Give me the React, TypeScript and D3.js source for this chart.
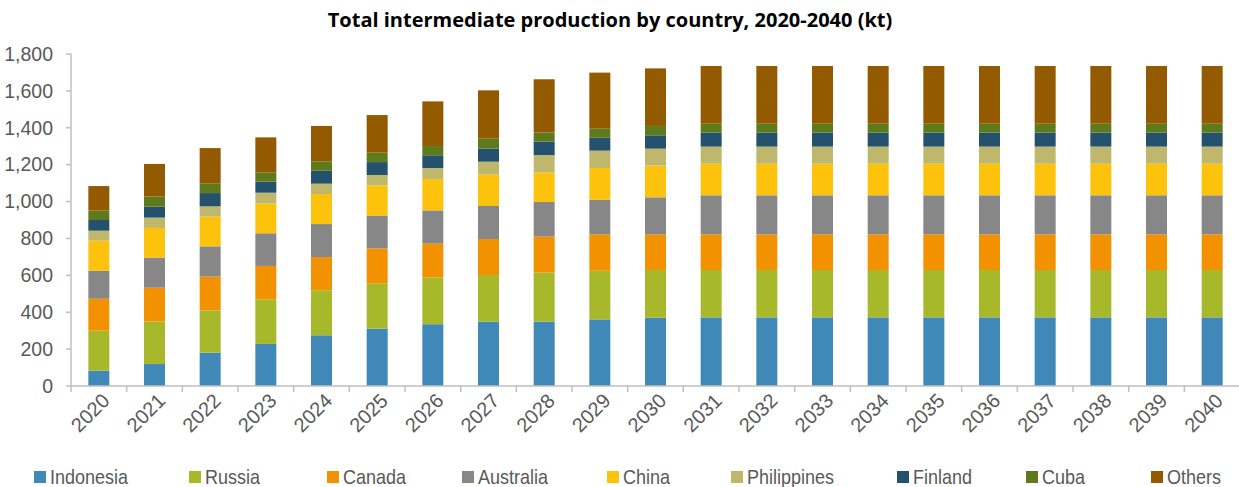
import React from "react";
import * as d3 from "d3";

const years = ["2020","2021","2022","2023","2024","2025","2026","2027","2028","2029","2030","2031","2032","2033","2034","2035","2036","2037","2038","2039","2040"];
const seriesNames = ["Indonesia","Russia","Canada","Australia","China","Philippines","Finland","Cuba","Others"];
const indonesia = [83,119,181,228,275,311,335,349,349,361,370,372,372,372,372,372,372,372,372,372,372];
const russia = [217,230,229,242,244,246,254,253,267,264,259,257,257,257,257,257,257,257,257,257,257];
const canada = [173,184,183,181,180,189,183,195,194,197,193,193,193,193,193,193,193,193,193,193,193];
const australia = [152,163,164,177,179,178,180,179,188,188,201,212,212,212,212,212,212,212,212,212,212];
const china = [163,161,161,162,163,164,170,170,159,172,172,171,171,171,171,171,171,171,171,171,171];
const philippines = [54,56,56,58,56,56,60,70,95,94,92,93,93,93,93,93,93,93,93,93,93];
const finland = [58,59,72,60,70,70,69,71,73,70,72,76,76,76,76,76,76,76,76,76,76];
const cuba = [51,55,51,49,51,51,50,54,49,49,51,48,48,48,48,48,48,48,48,48,48];
const others = [133,177,193,191,192,204,242,262,289,304,312,313,313,313,313,313,313,313,313,313,313];
const yTicks = [0,200,400,600,800,1000,1200,1400,1600,1800];

const colors = ["#3f88b8","#a7b82b","#f39200","#878787","#fcc20c","#bfb86c","#24526e","#5f7a1a","#935a00"];
const legendTextX = [50,205,343,478,623,747,913,1042,1167];

const W = 1239, H = 487;
const M = { left: 71, right: 1240, top: 54, bottom: 386 };
const axisFont = "'Liberation Sans', Arial, sans-serif";

export default function App() {
  const all = [indonesia, russia, canada, australia, china, philippines, finland, cuba, others];
  const table = years.map((y, i) => {
    const row: any = { year: y };
    seriesNames.forEach((s, k) => { row[s] = all[k][i]; });
    return row;
  });
  const stack = d3.stack().keys(seriesNames)(table as any);
  const x = d3.scaleBand().domain(years).range([M.left, M.right]).paddingInner(0).paddingOuter(0);
  const y = d3.scaleLinear().domain([0, 1800]).range([M.bottom, M.top]);
  const bw = x.bandwidth() * 0.377;
  const axisColor = "#bfbfbf";
  const textColor = "#595959";

  return (
    <svg width={W} height={H} style={{ position: "absolute", left: 0, top: 0, background: "#fff" }}>
      <text x={610} y={27} textAnchor="middle" fontFamily="'Open Sans', sans-serif" fontWeight={700} fontSize={20} fill="#000">
        Total intermediate production by country, 2020-2040 (kt)
      </text>
      {stack.map((layer, k) => (
        <g key={seriesNames[k]} fill={colors[k]}>
          {layer.map((d, i) => (
            <rect key={i} x={(x(years[i]) as number) + (x.bandwidth() - bw) / 2} y={y(d[1])} width={bw} height={y(d[0]) - y(d[1])} />
          ))}
        </g>
      ))}
      {/* y axis */}
      <line x1={M.left} x2={M.left} y1={M.top} y2={M.bottom} stroke={axisColor} strokeWidth={1.5} />
      {yTicks.map((t) => (
        <g key={t}>
          <line x1={M.left - 5} x2={M.left} y1={y(t)} y2={y(t)} stroke={axisColor} strokeWidth={1.5} />
          <text x={53} y={y(t)} dy="0.35em" textAnchor="end" fontFamily={axisFont} fontSize={19.5} fill={textColor}>
            {d3.format(",")(t)}
          </text>
        </g>
      ))}
      {/* x axis */}
      <line x1={M.left} x2={M.right} y1={M.bottom} y2={M.bottom} stroke={axisColor} strokeWidth={1.5} />
      {years.map((yr) => (
        <line key={"t" + yr} x1={(x(yr) as number)} x2={(x(yr) as number)} y1={M.bottom} y2={M.bottom + 6} stroke={axisColor} strokeWidth={1.5} />
      ))}
      {years.map((yr) => {
        const cx = (x(yr) as number) + x.bandwidth() / 2 + 12;
        const cy = 402;
        return (
          <text key={"l" + yr} x={cx} y={cy} textAnchor="end" transform={`rotate(-45 ${cx} ${cy})`} fontFamily={axisFont} fontSize={20} fill={textColor}>
            {yr}
          </text>
        );
      })}
      {/* legend */}
      {seriesNames.map((s, k) => (
        <g key={"lg" + s}>
          <rect x={legendTextX[k] - 16} y={471} width={12} height={12} fill={colors[k]} />
          <text transform={`translate(${legendTextX[k]},484) scale(0.9,1)`} fontFamily={axisFont} fontSize={20} fill={textColor}>{s}</text>
        </g>
      ))}
    </svg>
  );
}
